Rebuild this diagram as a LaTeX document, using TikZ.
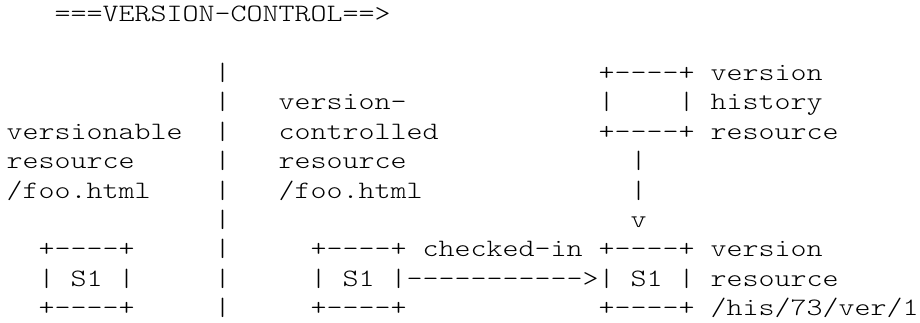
\documentclass[tikz,border=0pt]{standalone}
\usepackage{fontspec}
\newfontfamily\asciifont{lmmonolt10-regular.otf}[FakeStretch=1.219]
\tikzset{
  asc/.style={anchor=base west, inner sep=0pt, outer sep=0pt, text=black,
    font=\asciifont\fontsize{25}{29.4}\selectfont}
}
% column c, row r -> position of a monospaced cell
\newcommand\cell[4]{\node[asc] (#1) at ({6.7+16*#2}, {-(21.7+29.4*#3)}) {#4};}
\begin{document}
\begin{tikzpicture}[x=1pt,y=1pt]
\useasboundingbox (0,0) rectangle (920,-322);
\fill[white] (0,0) rectangle (920,-322);
% title
\cell{title}{3}{0}{===VERSION-CONTROL==>}
% separator column
\foreach \r in {2,...,10} {\cell{sep\r}{13}{\r}{|}}
% version history resource (top right)
\cell{vhtop}{37}{2}{+----+}
\cell{vhtxta}{44}{2}{version}
\cell{vhl}{37}{3}{|}
\cell{vhr}{42}{3}{|}
\cell{vhtxtb}{44}{3}{history}
\cell{vhbot}{37}{4}{+----+}
\cell{vhtxtc}{44}{4}{resource}
\cell{vhlinka}{39}{5}{|}
\cell{vhlinkb}{39}{6}{|}
\cell{vhhead}{39}{7}{v}
% left labels
\cell{vra}{0}{4}{versionable}
\cell{vrb}{0}{5}{resource}
\cell{vrc}{0}{6}{/foo.html}
% middle labels
\cell{vcra}{17}{3}{version-}
\cell{vcrb}{17}{4}{controlled}
\cell{vcrc}{17}{5}{resource}
\cell{vcrd}{17}{6}{/foo.html}
% left box
\cell{lbtop}{2}{8}{+----+}
\cell{lbl}{2}{9}{|}
\cell{lbs}{4}{9}{S1}
\cell{lbr}{7}{9}{|}
\cell{lbbot}{2}{10}{+----+}
% middle box
\cell{mbtop}{19}{8}{+----+}
\cell{mbl}{19}{9}{|}
\cell{mbs}{21}{9}{S1}
\cell{mbbot}{19}{10}{+----+}
% arrow and label
\cell{ci}{26}{8}{checked-in}
\cell{arrow}{24}{9}{|----------->|}
% right box
\cell{rbtop}{37}{8}{+----+}
\cell{rbs}{39}{9}{S1}
\cell{rbr}{42}{9}{|}
\cell{rbbot}{37}{10}{+----+}
\cell{rvtxta}{44}{8}{version}
\cell{rvtxtb}{44}{9}{resource}
\cell{rvtxtc}{44}{10}{/his/73/ver/1}
\end{tikzpicture}
\end{document}
